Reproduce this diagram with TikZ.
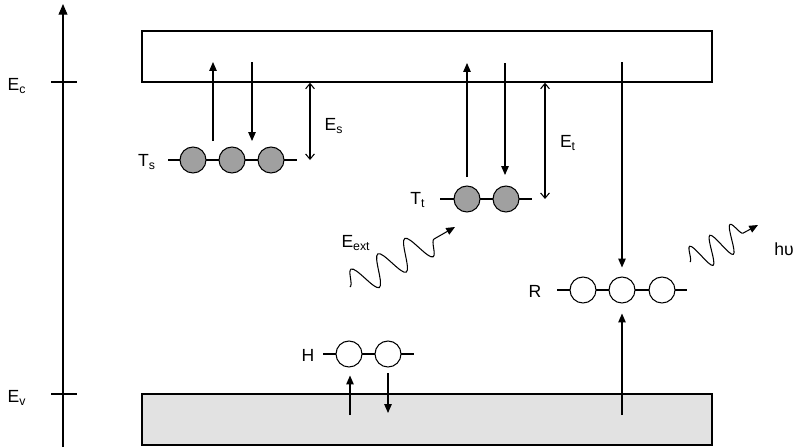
\documentclass[tikz,border=0pt]{standalone}
\usepackage{fontspec}
\setmainfont{Liberation Sans}
\usetikzlibrary{
  arrows.meta,
  positioning,
  calc,
  decorations.pathmorphing
}
\definecolor{trapgray}{RGB}{160,160,160}
\definecolor{bandgray}{RGB}{226,226,226}

\begin{document}
\begin{tikzpicture}[
  x=0.02cm, y=-0.02cm,
  every node/.style={font=\fontsize{10}{12}\selectfont, inner sep=1pt},
  band/.style={draw, line width=0.8pt, minimum width=11.4cm,
               minimum height=1.02cm, inner sep=0pt},
  trap/.style={circle, draw, line width=0.6pt, minimum size=0.52cm, inner sep=0pt},
  trapfull/.style={trap, fill=trapgray},
  trapopen/.style={trap, fill=white},
  level/.style={line width=0.6pt},
  jump/.style={line width=0.6pt, -{Triangle[length=5pt,width=4.2pt]}},
  depth/.style={line width=0.6pt,
    {Straight Barb[length=3pt,width=5pt]}-{Straight Barb[length=3pt,width=5pt]}},
  photon/.style={line width=0.6pt, -{Triangle[length=5pt,width=4.2pt]},
    decorate, decoration={snake, segment length=0.62cm, amplitude=0.3cm,
    post length=0.2cm}}
]
\useasboundingbox (0,0) rectangle (794,447);

% Energy axis with band edges
\coordinate (ax0) at (63,447);
\coordinate (ax1) at (63,4);
\draw[jump, -{Triangle[length=6pt,width=5pt]}] (ax0) -- (ax1);
\draw[level] (51,82) -- (77,82);
\draw[level] (51,394) -- (77,394);
\node (eclbl) at (17,86) {E\textsubscript{c}};
\node (evlbl) at (17,398) {E\textsubscript{v}};

% Conduction and valence bands
\node[band] (cb) at (427,56.5) {};
\node[band, fill=bandgray] (vb) at (427,419.5) {};

% Shallow traps T_s
\draw[level] (168,160) -- (297,160);
\foreach \i/\x in {1/193,2/232,3/271}
  \node[trapfull] (ts\i) at (\x,160) {};
\node (tslbl) at (147,162) {T\textsubscript{s}};
\coordinate (tsup) at (213,141);
\coordinate (tsdn) at (252,62);
\draw[jump] (tsup) -- (tsup |- tsdn);
\draw[jump] (tsdn) -- (tsdn |- tsup);
\coordinate (es) at (310,160);
\draw[depth] (es |- cb.south) -- (es);
\node (eslbl) at (334,126) {E\textsubscript{s}};

% Deep traps T_t
\draw[level] (440,199) -- (532,199);
\foreach \i/\x in {1/467,2/506}
  \node[trapfull] (tt\i) at (\x,199) {};
\node (ttlbl) at (418,200) {T\textsubscript{t}};
\coordinate (ttup) at (467,177);
\coordinate (ttdn) at (505,63);
\draw[jump] (ttup) -- (ttup |- ttdn);
\draw[jump] (ttdn) -- (505,175);
\coordinate (et) at (545,199);
\draw[depth] (et |- cb.south) -- (et);
\node (etlbl) at (568,143) {E\textsubscript{t}};

% External excitation
\coordinate (ext0) at (350,287);
\coordinate (ext1) at (455,227);
\draw[photon] (ext0) -- (ext1);
\node (extlbl) at (356,243) {E\textsubscript{ext}};

% Recombination centres R
\draw[level] (557,290) -- (687,290);
\foreach \i/\x in {1/583,2/622,3/662}
  \node[trapopen] (r\i) at (\x,290) {};
\node (rlbl) at (535,291) {R};
\coordinate (rin) at (622,62);
\coordinate (rhole) at (622,415);
\draw[jump] (rin) -- ($(r2.north)+(0,-9)$);
\draw[jump] (rhole) -- ($(r2.south)+(0,10)$);

% Emitted light
\coordinate (hv0) at (690,262);
\coordinate (hv1) at (758,225);
\draw[photon, decoration={segment length=0.46cm, amplitude=0.28cm, post length=0.15cm}]
  (hv0) -- (hv1);
\node (hvlbl) at (784,249) {hυ};

% Hole traps H
\draw[level] (323,354) -- (414,354);
\foreach \i/\x in {1/349,2/388}
  \node[trapopen] (h\i) at (\x,354) {};
\node (hlbl) at (308,355) {H};
\coordinate (hup) at (350,415);
\coordinate (hdn) at (388,373);
\draw[jump] (hup) -- ($(h1.south)+(1,8)$);
\draw[jump] (hdn) -- (388,413);
\end{tikzpicture}
\end{document}
